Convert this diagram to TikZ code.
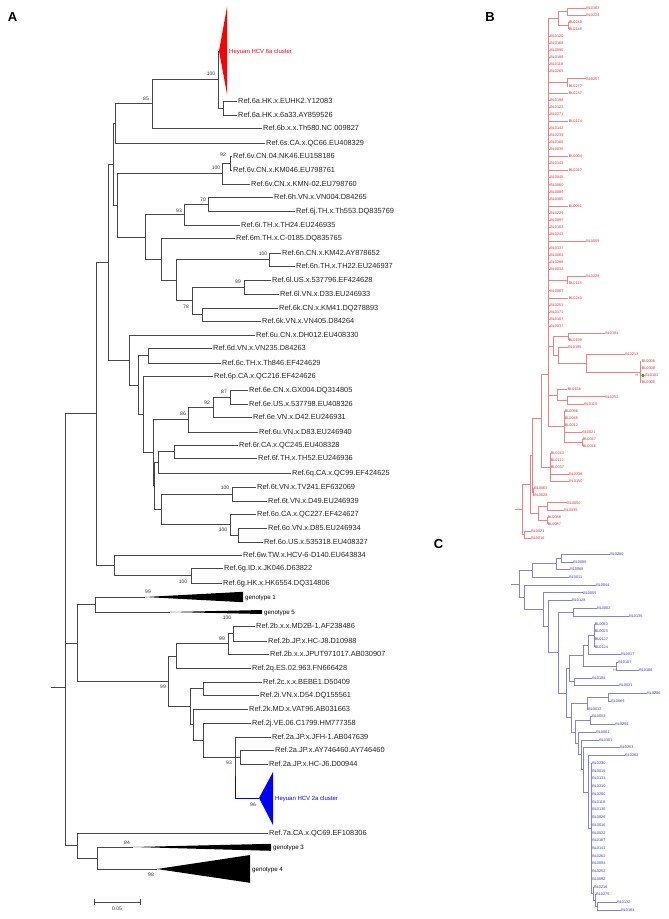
\documentclass[tikz,border=0pt]{standalone}
\usepackage{fontspec}
\setmainfont{Liberation Sans}
\definecolor{bline}{RGB}{238,130,130}
\definecolor{btext}{RGB}{230,40,40}
\definecolor{cline}{RGB}{130,130,225}
\definecolor{ctext}{RGB}{50,50,220}
\definecolor{hred}{RGB}{255,0,0}
\definecolor{hblue}{RGB}{0,0,255}
\begin{document}
\begin{tikzpicture}[x=1pt,y=-1pt,
 br/.style={line width=0.6pt, draw=black!72},
 lf/.style={anchor=west, inner xsep=1pt, inner ysep=0pt, font=\fontsize{7.4}{8}\selectfont, text=black!85, text height=5.3pt, text depth=0pt},
 bsv/.style={inner sep=0pt, font=\fontsize{5}{6}\selectfont, text=black!80},
 gt/.style={anchor=west, inner xsep=1pt, inner ysep=0pt, font=\fontsize{6.2}{7}\selectfont, text height=4.5pt, text depth=0pt},
 cl/.style={anchor=west, inner xsep=1pt, inner ysep=0pt, font=\fontsize{6}{7}\selectfont, text height=4.3pt, text depth=0pt},
 bb/.style={line width=0.45pt, draw=bline},
 cb/.style={line width=0.45pt, draw=cline},
 bl/.style={anchor=west, inner xsep=0.6pt, inner ysep=0pt, font=\fontsize{3.8}{4}\selectfont, text=btext, text height=2.7pt, text depth=0pt},
 clf/.style={bl, text=ctext},
 plet/.style={font=\bfseries\fontsize{13}{13}\selectfont, inner sep=0pt}]

\useasboundingbox[fill=white] (0,0) rectangle (669,919);

% ---------------- panel letters
\node[plet] (pA) at (12.5,17) {A};
\node[plet] (pB) at (490,17) {B};
\node[plet] (pC) at (438.5,544) {C};

% ---------------- panel A leaves
\node[lf] (L2) at (237,101) {Ref.6a.HK.x.EUHK2.Y12083};
\node[lf] (L3) at (237,115) {Ref.6a.HK.x.6a33.AY859526};
\node[lf] (L4) at (262,128) {Ref.6b.x.x.Th580.NC 009827};
\node[lf] (L5) at (265,143) {Ref.6s.CA.x.QC66.EU408329};
\node[lf] (L6) at (232,156) {Ref.6v.CN.04.NK46.EU158186};
\node[lf] (L7) at (232,170) {Ref.6v.CN.x.KM046.EU798761};
\node[lf] (L8) at (250,184) {Ref.6v.CN.x.KMN-02.EU798760};
\node[lf] (L9) at (273,197) {Ref.6h.VN.x.VN004.D84265};
\node[lf] (L10) at (295,211) {Ref.6j.TH.x.Th553.DQ835769};
\node[lf] (L11) at (240,225) {Ref.6i.TH.x.TH24.EU246935};
\node[lf] (L12) at (235,238) {Ref.6m.TH.x.C-0185.DQ835765};
\node[lf] (L13) at (281,253) {Ref.6n.CN.x.KM42.AY878652};
\node[lf] (L14) at (295,266) {Ref.6n.TH.x.TH22.EU246937};
\node[lf] (L15) at (271,280) {Ref.6l.US.x.537796.EF424628};
\node[lf] (L16) at (279,294) {Ref.6l.VN.x.D33.EU246933};
\node[lf] (L17) at (278,308) {Ref.6k.CN.x.KM41.DQ278893};
\node[lf] (L18) at (261,321) {Ref.6k.VN.x.VN405.D84264};
\node[lf] (L19) at (255,335) {Ref.6u.CN.x.DH012.EU408330};
\node[lf] (L20) at (212,348) {Ref.6d.VN.x.VN235.D84263};
\node[lf] (L21) at (221,363) {Ref.6c.TH.x.Th846.EF424629};
\node[lf] (L22) at (213,376) {Ref.6p.CA.x.QC216.EF424626};
\node[lf] (L23) at (248,390) {Ref.6e.CN.x.GX004.DQ314805};
\node[lf] (L24) at (248,404) {Ref.6e.US.x.537798.EU408326};
\node[lf] (L25) at (252,417) {Ref.6e.VN.x.D42.EU246931};
\node[lf] (L26) at (258,432) {Ref.6u.VN.x.D83.EU246940};
\node[lf] (L27) at (238,445) {Ref.6r.CA.x.QC245.EU408328};
\node[lf] (L28) at (257,458) {Ref.6f.TH.x.TH52.EU246936};
\node[lf] (L29) at (291,473) {Ref.6q.CA.x.QC99.EF424625};
\node[lf] (L30) at (256,487) {Ref.6t.VN.x.TV241.EF632069};
\node[lf] (L31) at (267,501) {Ref.6t.VN.x.D49.EU246939};
\node[lf] (L32) at (256,514) {Ref.6o.CA.x.QC227.EF424627};
\node[lf] (L33) at (267,528) {Ref.6o.VN.x.D85.EU246934};
\node[lf] (L34) at (263,542) {Ref.6o.US.x.535318.EU408327};
\node[lf] (L35) at (242,555) {Ref.6w.TW.x.HCV-6-D140.EU643834};
\node[lf] (L36) at (223,568) {Ref.6g.ID.x.JK046.D63822};
\node[lf] (L37) at (222,583) {Ref.6g.HK.x.HK6554.DQ314806};
\node[lf] (L40) at (255,626) {Ref.2b.x.x.MD2B-1.AF238486};
\node[lf] (L41) at (267,641) {Ref.2b.JP.x.HC-J8.D10988};
\node[lf] (L42) at (269,654) {Ref.2b.x.x.JPUT971017.AB030907};
\node[lf] (L43) at (251,668) {Ref.2q.ES.02.963.FN666428};
\node[lf] (L44) at (262,682) {Ref.2c.x.x.BEBE1.D50409};
\node[lf] (L45) at (259,695) {Ref.2i.VN.x.D54.DQ155561};
\node[lf] (L46) at (248,709) {Ref.2k.MD.x.VAT96.AB031663};
\node[lf] (L47) at (251,723) {Ref.2j.VE.06.C1799.HM777358};
\node[lf] (L48) at (271,737) {Ref.2a.JP.x.JFH-1.AB047639};
\node[lf] (L49) at (274,750) {Ref.2a.JP.x.AY746460.AY746460};
\node[lf] (L50) at (268,764) {Ref.2a.JP.x.HC-J6.D00944};
\node[lf] (L52) at (268,833) {Ref.7a.CA.x.QC69.EF108306};

% ---------------- panel A internal nodes
\coordinate (rootA) at (51,687);
\coordinate (n65) at (65,687);
\coordinate (n96) at (96,413.7);
\coordinate (n108) at (108,262.1);
\coordinate (n113) at (113,164.3);
\coordinate (n115) at (115,123.4);
\coordinate (n152) at (152,103.75);
\coordinate (n218) at (218,79.5);
\coordinate (n223) at (223,108);
\coordinate (red) at (219,51);
\coordinate (n117) at (117,205.1);
\coordinate (n222) at (222,173.5);
\coordinate (n230) at (230,163);
\coordinate (n145) at (145,236.8);
\coordinate (n184) at (184,214.5);
\coordinate (n208) at (208,204);
\coordinate (n161) at (161,259);
\coordinate (n176) at (176,280.1);
\coordinate (n269) at (269,259.5);
\coordinate (n192) at (192,300.75);
\coordinate (n244) at (244,287);
\coordinate (n202) at (202,314.5);
\coordinate (n129) at (129,360);
\coordinate (n138) at (138,384.9);
\coordinate (n148) at (148,355.5);
\coordinate (n143) at (143,414.3);
\coordinate (n153) at (153,452.6);
\coordinate (n188) at (188,419.5);
\coordinate (n213) at (213,407);
\coordinate (n230b) at (230,397);
\coordinate (n154) at (154,485.75);
\coordinate (n158) at (158,462.25);
\coordinate (n174) at (174,451.5);
\coordinate (n161b) at (161,509.25);
\coordinate (n232) at (232,494);
\coordinate (n230c) at (230,524.5);
\coordinate (n238) at (238,535);
\coordinate (n114) at (114,565.25);
\coordinate (n191) at (191,575.5);
\coordinate (n77) at (77,642.9);
\coordinate (n95) at (95,604.5);
\coordinate (g1) at (145,597);
\coordinate (g5) at (170,612);
\coordinate (n168) at (168,681.2);
\coordinate (n176b) at (176,655.9);
\coordinate (n228) at (228,643.75);
\coordinate (n233) at (233,633.5);
\coordinate (n190) at (190,706.5);
\coordinate (n203a) at (203,688.5);
\coordinate (n193) at (193,724.5);
\coordinate (n203b) at (203,740);
\coordinate (n235) at (235,757);
\coordinate (n235c) at (235,776);
\coordinate (n240) at (240,757);
\coordinate (blu) at (259,798);
\coordinate (n77b) at (77,845.5);
\coordinate (n97) at (97,858);
\coordinate (g3) at (133,847);
\coordinate (g4) at (157,869);

% ---------------- panel A branches
\draw[br] (rootA) -- (n65);
\draw[br] (n65) |- (n96) (n65) |- (n77) (n65) |- (n77b);
\draw[br] (n96) |- (n108) (n96) |- (n114);
\draw[br] (n108) |- (n113) (n108) |- (n129);
\draw[br] (n113) |- (n115) (n113) |- (n117);
\draw[br] (n115) |- (n152) (n115) |- (L5.west);
\draw[br] (n152) |- (n218) (n152) |- (L4.west);
\draw[br] (n218) |- (red) (n218) |- (n223);
\draw[br] (n223) |- (L2.west) (n223) |- (L3.west);
\draw[br] (n117) |- (n222) (n117) |- (n145);
\draw[br] (n222) |- (n230) (n222) |- (L8.west);
\draw[br] (n230) |- (L6.west) (n230) |- (L7.west);
\draw[br] (n145) |- (n184) (n145) |- (n161);
\draw[br] (n184) |- (n208) (n184) |- (L11.west);
\draw[br] (n208) |- (L9.west) (n208) |- (L10.west);
\draw[br] (n161) |- (L12.west) (n161) |- (n176);
\draw[br] (n176) |- (n269) (n176) |- (n192);
\draw[br] (n269) |- (L13.west) (n269) |- (L14.west);
\draw[br] (n192) |- (n244) (n192) |- (n202);
\draw[br] (n244) |- (L15.west) (n244) |- (L16.west);
\draw[br] (n202) |- (L17.west) (n202) |- (L18.west);
\draw[br] (n129) |- (L19.west) (n129) |- (n138);
\draw[br] (n138) |- (n148) (n138) |- (n143);
\draw[br] (n148) |- (L20.west) (n148) |- (L21.west);
\draw[br] (n143) |- (L22.west) (n143) |- (n153);
\draw[br] (n153) |- (n188) (n153) |- (n154);
\draw[br] (n188) |- (n213) (n188) |- (L26.west);
\draw[br] (n213) |- (n230b) (n213) |- (L25.west);
\draw[br] (n230b) |- (L23.west) (n230b) |- (L24.west);
\draw[br] (n154) |- (n158) (n154) |- (n161b);
\draw[br] (n158) |- (n174) (n158) |- (L29.west);
\draw[br] (n174) |- (L27.west) (n174) |- (L28.west);
\draw[br] (n161b) |- (n232) (n161b) |- (n230c);
\draw[br] (n232) |- (L30.west) (n232) |- (L31.west);
\draw[br] (n230c) |- (L32.west) (n230c) |- (n238);
\draw[br] (n238) |- (L33.west) (n238) |- (L34.west);
\draw[br] (n114) |- (L35.west) (n114) |- (n191);
\draw[br] (n191) |- (L36.west) (n191) |- (L37.west);
\draw[br] (n77) |- (n95) (n77) |- (n168);
\draw[br] (n95) |- (g1) (n95) |- (g5);
\draw[br] (n168) |- (n176b) (n168) |- (n190);
\draw[br] (n176b) |- (n228) (n176b) |- (L43.west);
\draw[br] (n228) |- (n233) (n228) |- (L42.west);
\draw[br] (n233) |- (L40.west) (n233) |- (L41.west);
\draw[br] (n190) |- (n203a) (n190) |- (n193);
\draw[br] (n203a) |- (L44.west) (n203a) |- (L45.west);
\draw[br] (n193) |- (L46.west) (n193) |- (n203b);
\draw[br] (n203b) |- (L47.west) (n203b) |- (n235);
\draw[br] (n235) |- (L48.west) (n235) -- (n240) (n235) -- (n235c);
\draw[br] (n240) |- (L49.west) (n240) |- (L50.west);
\draw[line width=0.6pt, hblue] (n235c) |- (blu);
\draw[br] (n77b) |- (L52.west) (n77b) |- (n97);
\draw[br] (n97) |- (g3) (n97) |- (g4);

% collapsed clades
\fill[hred] (red) -- (227,7) -- (227,94) -- cycle;
\fill[hblue] (blu) -- (273,772) -- (273,825) -- cycle;
\fill[black] (g1) -- (243,591.8) -- (243,602.2) -- cycle;
\fill[black] (g5) -- (262,610) -- (262,614) -- cycle;
\fill[black] (g3) -- (271,843.8) -- (271,850.8) -- cycle;
\fill[black] (g4) -- (250,855) -- (250,882.8) -- cycle;

\node[cl, text=hred] (c6a) at (228,51) {Heyuan HCV 6a cluster};
\node[cl, text=hblue] (c2a) at (274,798) {Heyuan HCV 2a cluster};
\node[gt] (t1) at (244,597) {genotype 1};
\node[gt] (t5) at (263,612) {genotype 5};
\node[gt] (t3) at (272,847) {genotype 3};
\node[gt] (t4) at (251,869) {genotype 4};

% bootstrap values
\node[bsv] (bs1) at (211,74) {100};
\node[bsv] (bs2) at (146,99) {85};
\node[bsv] (bs3) at (223,155) {92};
\node[bsv] (bs4) at (216,168) {100};
\node[bsv] (bs5) at (203,200) {70};
\node[bsv] (bs6) at (179,211) {93};
\node[bsv] (bs7) at (263,254) {100};
\node[bsv] (bs8) at (238,282) {99};
\node[bsv] (bs9) at (186,307) {78};
\node[bsv] (bs10) at (224,392) {87};
\node[bsv] (bs11) at (207,403) {92};
\node[bsv] (bs12) at (183,414) {86};
\node[bsv] (bs13) at (225,488) {100};
\node[bsv] (bs14) at (223,530) {100};
\node[bsv] (bs15) at (183,582) {100};
\node[bsv] (bs16) at (148,592) {99};
\node[bsv] (bs17) at (227,618) {100};
\node[bsv] (bs18) at (222,639) {99};
\node[bsv] (bs19) at (163,687) {99};
\node[bsv] (bs20) at (229,763) {93};
\node[bsv] (bs21) at (253,805) {96};
\node[bsv] (bs22) at (127,843) {84};
\node[bsv] (bs23) at (151,875) {98};

% scale bar
\coordinate (sb1) at (94,902);
\coordinate (sb2) at (140,902);
\draw[br] (sb1) -- (sb2);
\draw[br] (94,899) -- (94,905) (140,899) -- (140,905);
\node[bsv] (sbl) at (117,909) {0.05};

% ---------------- panel B
\foreach \i/\x/\t in {1/585.5/BL0163, 2/585.5/BL0224, 3/568/BL0248, 4/568/BL0148, 5/549.5/BL0120, 6/549.5/BL0168, 7/549.5/BL0090, 8/549.5/BL0188, 9/549.5/BL0118, 10/549.5/BL0265, 11/585.5/BL0257, 12/568/BL0277, 13/568/BL0237, 14/549.5/BL0198, 15/549.5/BL0122, 16/549.5/BL0271, 17/568/BL0124, 18/549.5/BL0142, 19/549.5/BL0239, 20/549.5/BL0165, 21/549.5/BL0035, 22/568/BL0004, 23/549.5/BL0143, 24/568/BL0267, 25/549.5/BL0045, 26/549.5/BL0060, 27/549.5/BL0089, 28/549.5/BL0305, 29/568/BL0061, 30/549.5/BL0229, 31/549.5/BL0097, 32/549.5/BL0103, 33/549.5/BL0243, 34/585.5/BL0009, 35/549.5/BL0137, 36/549.5/BL0064, 37/549.5/BL0288, 38/549.5/BL0032, 39/585.5/BL0228, 40/568/BL0113, 41/549.5/BL0067, 42/568/BL0240, 43/549.5/BL0251, 44/549.5/BL0171, 45/549.5/BL0107, 46/549.5/BL0037, 47/604.5/BL0184, 48/568/BL0199, 49/567.5/BL0195, 50/624.5/BL0213, 51/641/BL0006, 52/641/BL0008, 53/644.5/BL0102, 54/641/BL0000, 55/567/BL0156, 56/604.5/BL0252, 57/583.5/BL0115, 58/564/BL0096, 59/564/BL0045, 60/564/BL0012, 61/581.5/BL0021, 62/582/BL0047, 63/582/BL0046, 64/550/BL0243, 65/550/BL0112, 66/550/BL0037, 67/568.5/BL0238, 68/568.5/BL0150, 69/533.5/BL0063, 70/533.5/BL0028, 71/566.5/BL0050, 72/563.5/BL0035, 73/547/BL0088, 74/547/BL0087, 75/530.5/BL0021, 76/530.5/BL0016}
  \node[bl] (b\i) at (\x,{8+7.067*(\i-1)}) {\t};

\coordinate (bn1) at (567,11.53);
\coordinate (bn2) at (568,25.67);
\coordinate (bn3) at (558,18.6);
\coordinate (bn4) at (567,82.2);
\coordinate (bn5) at (567,280.05);
\coordinate (bT) at (548.5,374);
\coordinate (bn10) at (568,336.6);
\coordinate (bn13) at (640,372);
\coordinate (bn12) at (586,363.2);
\coordinate (bn11) at (558,355.2);
\coordinate (bn6) at (553,345.9);
\coordinate (bn14) at (567,400.2);
\coordinate (bn7) at (557,394.9);
\coordinate (bn9) at (582,442.6);
\coordinate (bn8) at (564,426.7);
\coordinate (bn15) at (550,467.3);
\coordinate (bn16) at (541,418.5);
\coordinate (bn17) at (533,492.1);
\coordinate (bn18) at (532,455.3);
\coordinate (bn19) at (547,506.25);
\coordinate (bn20) at (547,520.35);
\coordinate (bn21) at (538,513.3);
\coordinate (bn22) at (530,484.3);
\coordinate (bn23) at (524,534.5);
\coordinate (bR) at (522,509.4);
\coordinate (bS) at (515,509.4);

\draw[bb] (bS) -- (bR);
\draw[bb] (bR) |- (bn22) (bR) |- (bn23);
\draw[bb] (bn23) |- (b75.west) (bn23) |- (b76.west);
\draw[bb] (bn22) |- (bn18) (bn22) |- (bn21);
\draw[bb] (bn21) |- (bn19) (bn21) |- (bn20);
\draw[bb] (bn19) |- (b71.west) (bn19) |- (b72.west);
\draw[bb] (bn20) |- (b73.west) (bn20) |- (b74.west);
\draw[bb] (bn18) |- (bn16) (bn18) |- (bn17);
\draw[bb] (bn17) |- (b69.west) (bn17) |- (b70.west);
\draw[bb] (bn16) |- (bT) (bn16) |- (bn15);
\foreach \k in {64,...,68} \draw[bb] (bn15) |- (b\k.west);
\foreach \k in {5,...,10} \draw[bb] (bT) |- (b\k.west);
\foreach \k in {13,...,38} \draw[bb] (bT) |- (b\k.west);
\foreach \k in {41,...,46} \draw[bb] (bT) |- (b\k.west);
\draw[bb] (bT) |- (bn3) (bT) |- (bn4) (bT) |- (bn5) (bT) |- (bn6) (bT) |- (bn7) (bT) |- (bn8);
\draw[bb, line width=0.9pt] (548.5,200) -- (548.5,426);
\draw[bb] (bn3) |- (bn1) (bn3) |- (bn2);
\draw[bb] (bn1) |- (b1.west) (bn1) |- (b2.west);
\draw[bb] (bn2) |- (b3.west) (bn2) |- (b4.west);
\draw[bb] (bn4) |- (b11.west) (bn4) |- (b12.west);
\draw[bb] (bn5) |- (b39.west) (bn5) |- (b40.west);
\draw[bb] (bn6) |- (bn10) (bn6) |- (bn11);
\draw[bb] (bn10) |- (b47.west) (bn10) |- (b48.west);
\draw[bb] (bn11) |- (b49.west) (bn11) |- (bn12);
\draw[bb] (bn12) |- (b50.west) (bn12) |- (bn13);
\foreach \k in {51,...,54} \draw[bb] (bn13) |- (b\k.west);
\draw[bb] (bn7) |- (b55.west) (bn7) |- (bn14);
\draw[bb] (bn14) |- (b56.west) (bn14) |- (b57.west);
\foreach \k in {58,...,61} \draw[bb] (bn8) |- (b\k.west);
\draw[bb] (bn8) |- (bn9);
\draw[bb] (bn9) |- (b62.west) (bn9) |- (b63.west);
\node[fill=green!85!black, inner sep=0pt, minimum size=2.4pt] (gsq) at (643,375.5) {};
\node[inner sep=0pt, font=\fontsize{3.5}{4}\selectfont, text=black!60] (hB) at (636.8,375.5) {H};

% ---------------- panel C
\foreach \i/\x/\t in {1/609.5/BL0200, 2/572.5/BL0085, 3/569.5/BL0068, 4/568.5/BL0011, 5/595.5/BL0044, 6/582.5/BL0055, 7/571.5/BL0128, 8/596.5/BL0002, 9/628.5/BL0135, 10/594/BL0063, 11/594/BL0023, 12/594/BL0127, 13/594/BL0124, 14/620.5/BL0017, 15/617.5/BL0107, 16/638.5/BL0186, 17/591.5/BL0184, 18/618.5/BL0031, 19/646.5/BL0286, 20/610.5/BL0069, 21/587.5/BL0012, 22/591.5/BL0053, 23/614.5/BL0294, 24/595.5/BL0001, 25/598.5/BL0301, 26/619.5/BL0253, 27/624.5/BL0262, 28/591.5/BL0230, 29/591.5/BL0019, 30/591.5/BL0131, 31/591.5/BL0210, 32/591.5/BL0280, 33/591.5/BL0110, 34/591.5/BL0136, 35/591.5/BL0026, 36/591.5/BL0016, 37/591.5/BL0022, 38/591.5/BL0187, 39/591.5/BL0141, 40/591.5/BL0262, 41/591.5/BL0094, 42/591.5/BL0252, 43/591.5/BL0092, 44/593.5/BL0216, 45/595.5/BL0275, 46/616.5/BL0132, 47/620.5/BL0184}
  \node[clf] (c\i) at (\x,{554+7.74*(\i-1)}) {\t};

\coordinate (cn1) at (561,557.87);
\coordinate (cn2) at (556,563.7);
\coordinate (cn3) at (532,570.45);
\coordinate (cn4) at (573,612.05);
\coordinate (cn5) at (594,635.3);
\coordinate (cn6) at (588,644.95);
\coordinate (cn7) at (616,666.25);
\coordinate (cn8) at (583,655.6);
\coordinate (cn9) at (574,681.7);
\coordinate (cn10) at (569,668.65);
\coordinate (cn11) at (608,697.2);
\coordinate (cn12) at (587,702.95);
\coordinate (cn13) at (590,720.4);
\coordinate (cn14) at (597,906.15);
\coordinate (cn15) at (595,900.4);
\coordinate (cn16) at (593,893.6);
\coordinate (cn17) at (591,828.3);
\coordinate (cn18) at (588,791.75);
\coordinate (cn19) at (583,769.6);
\coordinate (cn20) at (581,754.7);
\coordinate (cn21) at (578,743.35);
\coordinate (cn22) at (575,731.9);
\coordinate (cn23) at (571,717.45);
\coordinate (cn24) at (566,693.05);
\coordinate (cn25) at (558,652.55);
\coordinate (cn26) at (548,626.5);
\coordinate (cn27) at (543,609.6);
\coordinate (cn28) at (524,597.3);
\coordinate (cR) at (519,583.9);
\coordinate (cS) at (511,583.9);

\draw[cb] (cS) -- (cR);
\draw[cb] (cR) |- (cn3) (cR) |- (cn28);
\draw[cb] (cn3) |- (cn2) (cn3) |- (c4.west);
\draw[cb] (cn2) |- (cn1) (cn2) |- (c3.west);
\draw[cb] (cn1) |- (c1.west) (cn1) |- (c2.west);
\draw[cb] (cn28) |- (c5.west) (cn28) |- (cn27);
\draw[cb] (cn27) |- (c6.west) (cn27) |- (cn26);
\draw[cb] (cn26) |- (c7.west) (cn26) |- (cn25);
\draw[cb] (cn25) |- (cn4) (cn25) |- (cn24);
\draw[cb] (cn4) |- (c8.west) (cn4) |- (c9.west);
\draw[cb] (cn24) |- (cn10) (cn24) |- (cn23);
\draw[cb] (cn10) |- (cn8) (cn10) |- (cn9);
\draw[cb] (cn8) |- (cn6) (cn8) |- (cn7);
\draw[cb] (cn6) |- (cn5) (cn6) |- (c14.west);
\foreach \k in {10,...,13} \draw[cb] (cn5) |- (c\k.west);
\draw[cb] (cn7) |- (c15.west) (cn7) |- (c16.west);
\draw[cb] (cn9) |- (c17.west) (cn9) |- (c18.west);
\draw[cb] (cn23) |- (cn12) (cn23) |- (cn22);
\draw[cb] (cn12) |- (cn11) (cn12) |- (c21.west);
\draw[cb] (cn11) |- (c19.west) (cn11) |- (c20.west);
\draw[cb] (cn22) |- (cn13) (cn22) |- (cn21);
\draw[cb] (cn13) |- (c22.west) (cn13) |- (c23.west);
\draw[cb] (cn21) |- (c24.west) (cn21) |- (cn20);
\draw[cb] (cn20) |- (c25.west) (cn20) |- (cn19);
\draw[cb] (cn19) |- (c26.west) (cn19) |- (cn18);
\draw[cb] (cn18) |- (c27.west) (cn18) |- (cn17);
\foreach \k in {28,...,43} \draw[cb] (cn17) |- (c\k.west);
\draw[cb] (cn17) |- (cn16);
\draw[cb] (cn16) |- (c44.west) (cn16) |- (cn15);
\draw[cb] (cn15) |- (c45.west) (cn15) |- (cn14);
\draw[cb] (cn14) |- (c46.west) (cn14) |- (c47.west);
\node[inner sep=0pt, font=\fontsize{3.5}{4}\selectfont, text=black!60] (hC) at (614.3,670.1) {H};
\end{tikzpicture}
\end{document}
